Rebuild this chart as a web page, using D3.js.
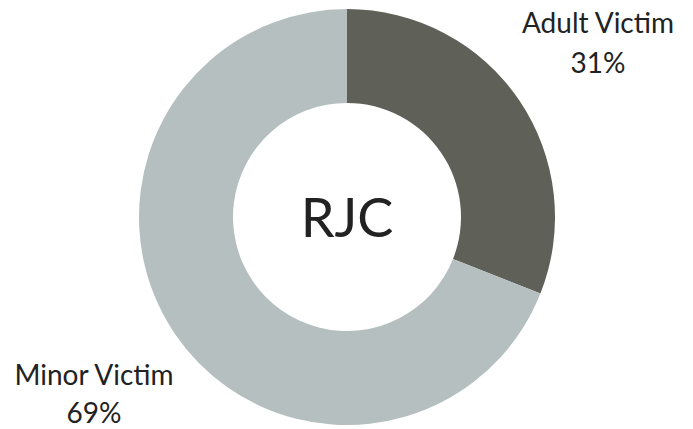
<!DOCTYPE html>
<html>
<head>
<meta charset="utf-8">
<script src="https://cdn.jsdelivr.net/npm/d3@7"></script>
<style>
	html, body { margin: 0; padding: 0; background: #fff; }
	svg text { font-family: 'Lato', 'Open Sans', sans-serif; fill: #222; }
</style>
</head>
<body>
<div id="chart"></div>
<script>
	// Data
	const categories = ['Adult Victim', 'Minor Victim'];
	const shares = [31, 69];
	const centerLabel = 'RJC';
	const colors = ['#5f6058', '#b5bfbf'];

	const width = 693;
	const height = 429;
	const cx = 347, cy = 217;
	const outerR = 208, innerR = 114;

	const svg = d3.select('#chart')
		.append('svg')
		.attr('width', width)
		.attr('height', height);

	const g = svg.append('g')
		.attr('transform', 'translate(' + cx + ',' + cy + ')');

	const pie = d3.pie().sort(null).value(function(d) { return d; });
	const arc = d3.arc().innerRadius(innerR).outerRadius(outerR);
	const arcs = pie(shares);

	g.selectAll('path')
		.data(arcs)
		.enter().append('path')
		.attr('d', arc)
		.attr('fill', function(d, i) { return colors[i]; });

	// Center label
	g.append('text')
		.attr('text-anchor', 'middle')
		.attr('y', 20)
		.style('font-size', '54px')
		.text(centerLabel);

	// Outside labels (placed beside the ring): x, first baseline, line gap
	const labelPos = [[598, 33, 40], [94, 385, 38]];
	categories.forEach(function(c, i) {
		const p = labelPos[i];
		const t = svg.append('text')
			.attr('text-anchor', 'middle')
			.attr('x', p[0])
			.attr('y', p[1])
			.style('font-size', '28px');
		t.append('tspan').attr('x', p[0]).text(c);
		t.append('tspan').attr('x', p[0]).attr('dy', p[2]).text(shares[i] + '%');
	});
</script>
</body>
</html>
